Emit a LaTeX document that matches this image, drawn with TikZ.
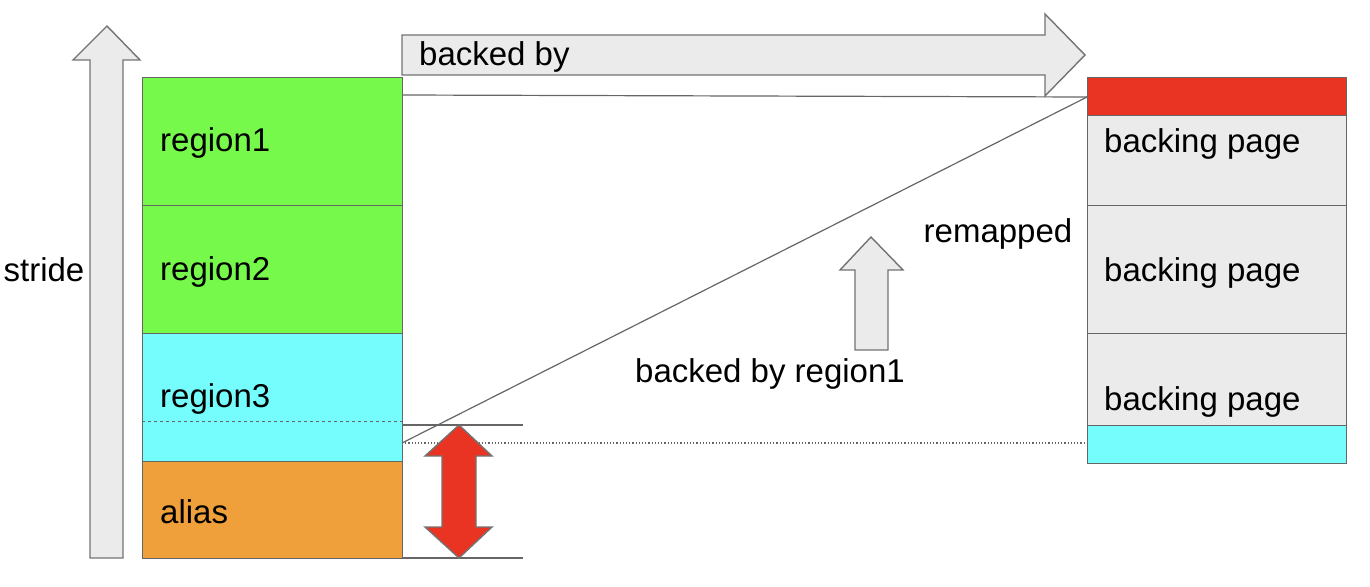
\documentclass[tikz,border=0pt]{standalone}
\usepackage{fontspec}
\setmainfont{Liberation Sans}
\begin{document}
\begin{tikzpicture}[x=1pt,y=-1pt,
  box/.style={draw=black!60,line width=1pt},
  arr/.style={draw=black!55,line width=1.4pt,fill=black!8,line join=miter},
  lbl/.style={font=\fontsize{33}{38}\selectfont,inner sep=0pt},
  ln/.style={draw=black!60,line width=1.2pt}]
\useasboundingbox (0,0) rectangle (1370,586);
\definecolor{gr}{HTML}{76F94A}
\definecolor{cy}{HTML}{75FDFD}
\definecolor{og}{HTML}{EFA03A}
\definecolor{rd}{HTML}{E93323}
% left column
\path[box,fill=gr] (142,77) rectangle (402,205);
\path[box,fill=gr] (142,205) rectangle (402,333);
\path[box,fill=cy] (142,333) rectangle (402,461);
\path[box,fill=og] (142,461) rectangle (402,558);
\draw[black!60,dashed,line width=1pt] (142,421) -- (402,421);
\node[lbl,anchor=west] (t1) at (160,143) {region1};
\node[lbl,anchor=west] (t2) at (160,272) {region2};
\node[lbl,anchor=west] (t3) at (160,399) {region3};
\node[lbl,anchor=west] (t4) at (160,512) {alias};
% right column
\path[box,fill=rd] (1087,77) rectangle (1346,115);
\path[box,fill=black!8] (1087,115) rectangle (1346,205);
\path[box,fill=black!8] (1087,205) rectangle (1346,333);
\path[box,fill=black!8] (1087,333) rectangle (1346,425);
\path[box,fill=cy] (1087,425) rectangle (1346,463);
\node[lbl,anchor=west] (b1) at (1104,144) {backing page};
\node[lbl,anchor=west] (b2) at (1104,273) {backing page};
\node[lbl,anchor=west] (b3) at (1104,402) {backing page};
% coordinates
\coordinate (la) at (402,95);
\coordinate (lb) at (402,443);
\coordinate (rt) at (1087,97);
\coordinate (rd2) at (1087,443);
\coordinate (h1a) at (402,425); \coordinate (h1b) at (523,425);
\coordinate (h2a) at (402,558); \coordinate (h2b) at (523,558);
\draw[ln] (la) -- (rt);
\draw[ln] (lb) -- (rt);
\draw[black!60,dotted,line width=1.2pt] (lb) -- (rd2);
\draw[ln] (h1a) -- (h1b);
\draw[ln] (h2a) -- (h2b);
% arrows
\draw[arr] (90,558) -- (90,60) -- (73,60) -- (107,26) -- (140,60) -- (123,60) -- (123,558) -- cycle;
\draw[arr] (402,35) -- (1045,35) -- (1045,14) -- (1085,55) -- (1045,96) -- (1045,75) -- (402,75) -- cycle;
\draw[arr] (855,350) -- (855,270) -- (840,270) -- (871,237) -- (903,270) -- (888,270) -- (888,350) -- cycle;
\draw[arr,fill=rd] (459,425) -- (492,456) -- (476,456) -- (476,527) -- (492,527) -- (459,558) -- (425,527) -- (442,527) -- (442,456) -- (425,456) -- cycle;
\node[lbl,anchor=west] (bb) at (419,57) {backed by};
\node[lbl] (rm) at (998,234) {remapped};
\node[lbl] (br) at (770,374) {backed by region1};
\node[lbl] (st) at (44,270) {stride};
\end{tikzpicture}
\end{document}
